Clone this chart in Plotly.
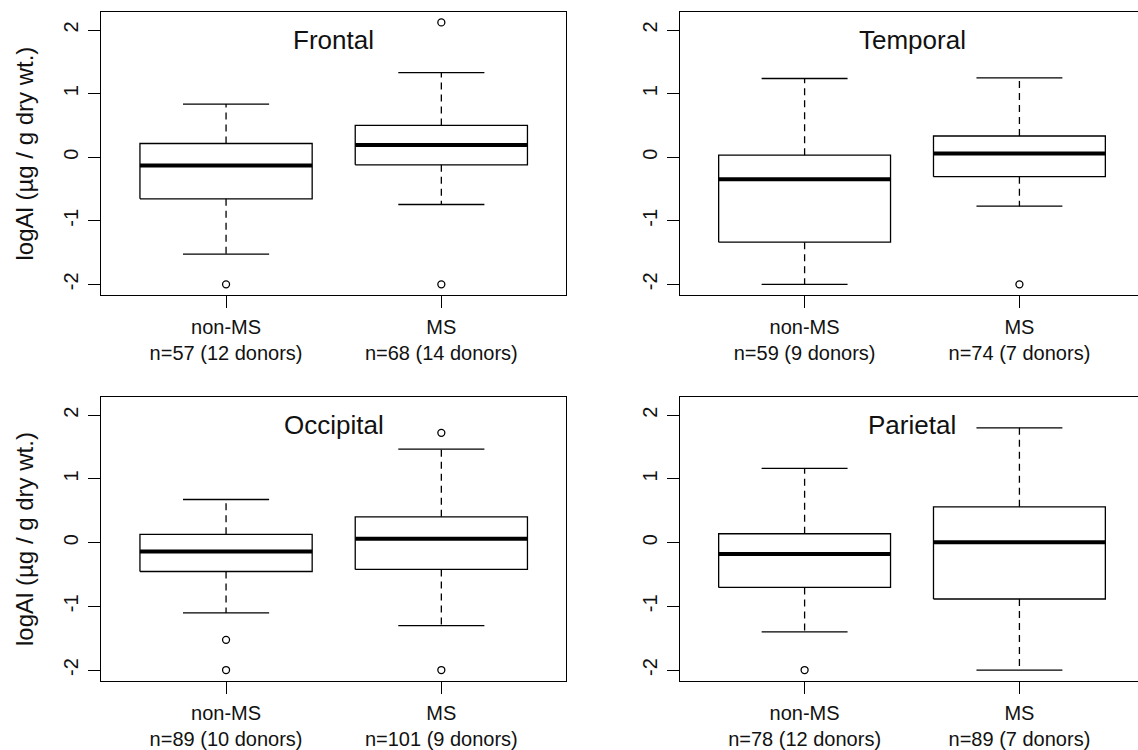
import plotly.graph_objects as go

# ---------------- data ----------------
regions = ["Frontal", "Temporal", "Occipital", "Parietal"]
groups = ["non-MS", "MS"]
n_labels = [
    ["n=57 (12 donors)", "n=68 (14 donors)"],
    ["n=59 (9 donors)", "n=74 (7 donors)"],
    ["n=89 (10 donors)", "n=101 (9 donors)"],
    ["n=78 (12 donors)", "n=89 (7 donors)"],
]
# per region: [non-MS, MS]
lower_whisker = [[-1.524, -0.744], [-2.000, -0.770], [-1.104, -1.302], [-1.401, -2.000]]
q1_values     = [[-0.655, -0.120], [-1.337, -0.307], [-0.453, -0.420], [-0.703, -0.885]]
medians       = [[-0.130,  0.190], [-0.349,  0.057], [-0.140,  0.062], [-0.180,  0.005]]
q3_values     = [[ 0.215,  0.500], [ 0.031,  0.333], [ 0.130,  0.406], [ 0.140,  0.562]]
upper_whisker = [[ 0.835,  1.330], [ 1.238,  1.248], [ 0.677,  1.469], [ 1.167,  1.802]]
outliers      = [[[-2.0], [2.12, -2.0]],
                 [[], [-2.0]],
                 [[-1.526, -2.0], [1.724, -2.0]],
                 [[-2.0], []]]
y_ticks = [-2, -1, 0, 1, 2]
y_tick_text = ["-2", "-1", "0", "1", "2"]
y_title = "logAl (µg / g dry wt.)"

# ---------------- styling / layout ----------------
W, H = 1138, 750
FONT = "Liberation Sans, Arial, Helvetica, sans-serif"
BOX_HALF = 0.4
CAP_HALF = 0.2
LW = 1.3

x_domains = [[101.2 / W, 566.2 / W], [680.0 / W, 1.0],
             [101.2 / W, 566.2 / W], [680.0 / W, 1.0]]
y_domains = [[1 - 296.0 / H, 1 - 12.3 / H], [1 - 296.0 / H, 1 - 12.3 / H],
             [1 - 683.3 / H, 1 - 399.0 / H], [1 - 683.3 / H, 1 - 399.0 / H]]
x_ranges = [[0.42, 2.58], [0.42, 2.552], [0.42, 2.58], [0.42, 2.552]]
y_range = [-2.165, 2.28]

fig = go.Figure()
layout = dict(
    width=W, height=H, autosize=False,
    margin=dict(l=0, r=0, t=0, b=0),
    paper_bgcolor="white", plot_bgcolor="white",
    showlegend=False,
    font=dict(family=FONT, size=20, color="black"),
    annotations=[],
)

for i, region in enumerate(regions):
    sfx = "" if i == 0 else str(i + 1)
    xa, ya = "x" + sfx, "y" + sfx
    bx, by, mx, my, wx, wy, cx, cy, ox, oy = ([] for _ in range(10))
    for j in range(len(groups)):
        xc = j + 1
        lo, q1, md, q3, hi = (lower_whisker[i][j], q1_values[i][j], medians[i][j],
                              q3_values[i][j], upper_whisker[i][j])
        bx += [xc - BOX_HALF, xc + BOX_HALF, xc + BOX_HALF, xc - BOX_HALF, xc - BOX_HALF, None]
        by += [q1, q1, q3, q3, q1, None]
        mx += [xc - BOX_HALF, xc + BOX_HALF, None]
        my += [md, md, None]
        wx += [xc, xc, None, xc, xc, None]
        wy += [q3, hi, None, q1, lo, None]
        cx += [xc - CAP_HALF, xc + CAP_HALF, None, xc - CAP_HALF, xc + CAP_HALF, None]
        cy += [hi, hi, None, lo, lo, None]
        for v in outliers[i][j]:
            ox.append(xc)
            oy.append(v)
    fig.add_trace(go.Scatter(x=wx, y=wy, xaxis=xa, yaxis=ya, mode="lines",
                             line=dict(color="black", width=LW, dash="7px,5px"), hoverinfo="skip"))
    fig.add_trace(go.Scatter(x=cx, y=cy, xaxis=xa, yaxis=ya, mode="lines",
                             line=dict(color="black", width=LW), hoverinfo="skip"))
    fig.add_trace(go.Scatter(x=bx, y=by, xaxis=xa, yaxis=ya, mode="lines",
                             line=dict(color="black", width=LW), hoverinfo="skip"))
    fig.add_trace(go.Scatter(x=mx, y=my, xaxis=xa, yaxis=ya, mode="lines",
                             line=dict(color="black", width=4), hoverinfo="skip"))
    fig.add_trace(go.Scatter(x=ox, y=oy, xaxis=xa, yaxis=ya, mode="markers",
                             marker=dict(symbol="circle-open", size=7, color="black",
                                         line=dict(width=LW, color="black")),
                             hoverinfo="y"))

    left = (i % 2 == 0)
    layout["xaxis" + sfx] = dict(
        domain=x_domains[i], range=x_ranges[i], anchor=ya,
        showgrid=False, zeroline=False, showline=True, linecolor="black", linewidth=LW,
        mirror=True, ticks="outside", ticklen=12, tickwidth=LW, tickcolor="black",
        tickvals=[1, 2],
        ticktext=[f"{groups[k]}<br>{n_labels[i][k]}" for k in range(2)],
        tickfont=dict(family=FONT, size=20, color="#111"),
        ticklabelstandoff=2,
    )
    layout["yaxis" + sfx] = dict(
        domain=y_domains[i], range=y_range, anchor=xa,
        showgrid=False, zeroline=False, showline=True, linecolor="black", linewidth=LW,
        mirror=left, ticks="outside", ticklen=12, tickwidth=LW, tickcolor="black",
        tickvals=y_ticks, ticktext=y_tick_text, tickangle=-90,
        tickfont=dict(family=FONT, size=20, color="#111"),
        ticklabelstandoff=2,
    )
    layout["annotations"].append(dict(
        text=region, x=1.5, y=1.85, xref=xa, yref=ya, showarrow=False,
        xanchor="center", yanchor="middle",
        font=dict(family=FONT, size=26, color="#111"),
    ))
    if left:
        layout["annotations"].append(dict(
            text=y_title, x=25 / W, y=sum(y_domains[i]) / 2, xref="paper", yref="paper",
            showarrow=False, textangle=-90, xanchor="center", yanchor="middle",
            font=dict(family=FONT, size=24, color="#111"),
        ))

fig.update_layout(**layout)
fig.write_html(
    "out.html",
    config={"displayModeBar": False},
    post_script="document.body.style.margin='0';document.body.style.overflow='hidden';",
)
